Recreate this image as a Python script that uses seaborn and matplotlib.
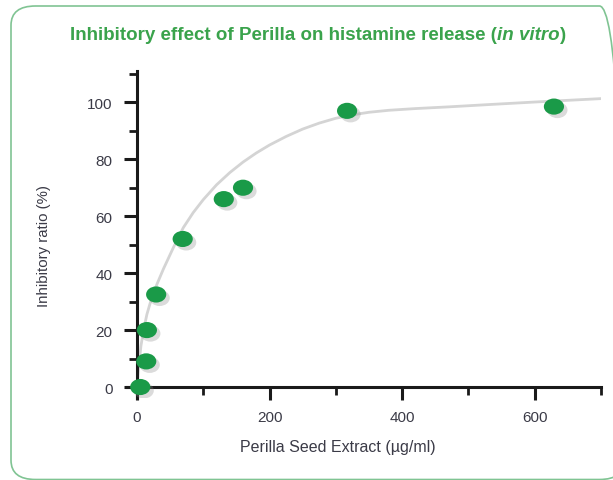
import matplotlib
matplotlib.use("Agg")
import matplotlib.pyplot as plt
import seaborn as sns
import pandas as pd
from matplotlib.markers import MarkerStyle
from matplotlib.transforms import Affine2D
from matplotlib.patches import FancyBboxPatch
import matplotlib.patheffects as pe

# measured points
dose = [5, 14, 15, 29, 69, 131, 160, 317, 629]
inhibition = [0, 9, 20, 32.5, 52, 66, 70, 97, 98.5]

# trend line
curve_x = [0, 3, 6, 10, 15, 20, 30, 40, 55, 70, 85, 100, 120, 140, 160, 180, 200,
           225, 250, 275, 300, 325, 350, 380, 420, 470, 530, 600, 700]
curve_y = [0, 7.8, 14.4, 20, 25.5, 29.5, 36, 41.5, 49, 56, 61.3, 65.8, 71, 75.3, 79, 82.2, 85,
           88, 90.6, 92.7, 94.4, 95.6, 96.5, 97.2, 97.8, 98.4, 99.2, 100.1, 101.3]

title_parts = ["Inhibitory effect of Perilla on histamine release (", "in vitro", ")"]

GREEN = "#1a9a48"
TITLE_GREEN = "#3aa34c"
TEXT = "#3b3b47"
INK = "#1a1a1a"

sns.set_style("white")
plt.rcParams["font.family"] = ["Liberation Sans", "DejaVu Sans"]

fig = plt.figure(figsize=(6.13, 4.81), dpi=100)
ax = fig.add_axes([127 / 613, (481 - 399.4) / 481, (601 - 127) / 613, (399.4 - 72) / 481])

# rounded frame, open on the right
frame = FancyBboxPatch((11 / 613, 0.5 / 481), 1.0, (481 - 7.5) / 481,
                       boxstyle="round,pad=0,rounding_size=0.04",
                       transform=fig.transFigure, fill=False,
                       edgecolor="#80c493", linewidth=1.2, zorder=0)
fig.patches.append(frame)

df_curve = pd.DataFrame({"x": curve_x, "y": curve_y})
sns.lineplot(data=df_curve, x="x", y="y", ax=ax, color="#d4d4d4",
             linewidth=2.0, zorder=2, solid_joinstyle="round")

df = pd.DataFrame({"dose": dose, "inhibition": inhibition})
oval = MarkerStyle("o", transform=Affine2D().scale(1.25, 1.0))
sns.scatterplot(data=df, x="dose", y="inhibition", ax=ax, color=GREEN,
                marker=oval, s=135, edgecolor="none", zorder=3,
                path_effects=[pe.SimplePatchShadow(offset=(2.5, -2.5), shadow_rgbFace="#888888", alpha=0.3),
                              pe.Normal()])

ax.set_xlim(-15, 700)
ax.set_ylim(-4, 111)
for side in ["top", "right"]:
    ax.spines[side].set_visible(False)
for side in ["left", "bottom"]:
    ax.spines[side].set_position(("data", 0))
    ax.spines[side].set_color(INK)
    ax.spines[side].set_linewidth(2.2)

ax.set_xticks([0, 200, 400, 600])
ax.set_xticks([100, 300, 500, 700], minor=True)
ax.set_yticks([0, 20, 40, 60, 80, 100])
ax.set_yticks([10, 30, 50, 70, 90, 110], minor=True)
ax.tick_params(which="both", bottom=True, left=True, direction="out", color=INK)
ax.tick_params(which="major", length=9.5, width=2.2, labelsize=11, labelcolor=TEXT, pad=7)
ax.tick_params(which="minor", length=6, width=2.0)
ax.tick_params(axis="y", which="major", pad=8)

ax.set_xlabel("Perilla Seed Extract (µg/ml)", fontsize=11.5, color=TEXT)
ax.set_ylabel("Inhibitory ratio (%)", fontsize=10.8, color=TEXT)
ax.xaxis.set_label_coords((338 - 127) / 474, -0.124)
ax.yaxis.set_label_coords(-(127 - 51) / 474, (399.4 - 246) / 327.4)

# title with italic "in vitro", centred as a whole
renderer = fig.canvas.get_renderer()
pieces = []
for i, part in enumerate(title_parts):
    t = fig.text(0, 1 - 36 / 481, part, ha="left", va="center", fontsize=13.5,
                 fontweight="bold", style="italic" if i == 1 else "normal", color=TITLE_GREEN)
    pieces.append(t)
widths = [p.get_window_extent(renderer).width for p in pieces]
x0 = 318 - sum(widths) / 2
for p, w in zip(pieces, widths):
    p.set_x(x0 / 613)
    x0 += w

fig.savefig("out.png", dpi=100)
